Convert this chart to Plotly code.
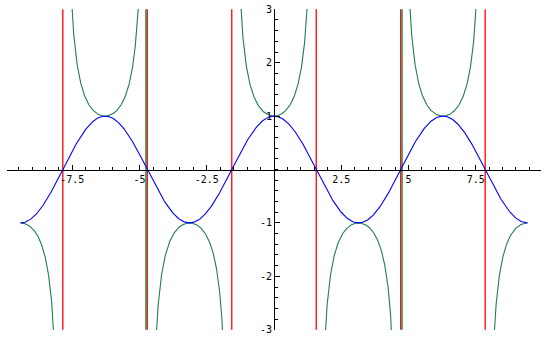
import numpy as np
import plotly.graph_objects as go

# ---- data ----
x_min, x_max = -3 * np.pi, 3 * np.pi
asymptotes = [-5 * np.pi / 2, -3 * np.pi / 2, -np.pi / 2, np.pi / 2, 3 * np.pi / 2, 5 * np.pi / 2]
jump_lines = [-3 * np.pi / 2 - 0.05, 3 * np.pi / 2 + 0.05]   # sec jump segments (green)
x_ticks = [-7.5, -5, -2.5, 2.5, 5, 7.5]
x_ticktext = ["-7.5", "-5", "-2.5", "2.5", "5", "7.5"]
y_ticks = [-3, -2, -1, 1, 2, 3]
y_ticktext = ["-3", "-2", "-1", "1", "2", "3"]

# cos curve
xs = np.linspace(x_min, x_max, 1500)
cos_y = np.cos(xs)

# sec curve, split at asymptotes
edges = [x_min] + asymptotes + [x_max]
sec_x, sec_y = [], []
for a, b in zip(edges[:-1], edges[1:]):
    seg = np.linspace(a + 1e-4, b - 1e-4, 600)
    sec_x += list(seg) + [None]
    sec_y += list(1 / np.cos(seg)) + [None]

fig = go.Figure()

BLUE = "#0000FF"
GREEN = "#1E7F4F"
DGREEN = "#008040"
RED = "#FF0000"

for xv in asymptotes:
    fig.add_trace(go.Scatter(x=[xv, xv], y=[-3, 3], mode="lines",
                             line=dict(color=RED, width=1.3), hoverinfo="skip"))
for xv in jump_lines:
    fig.add_trace(go.Scatter(x=[xv, xv], y=[-3, 3], mode="lines",
                             line=dict(color=DGREEN, width=1.3), hoverinfo="skip"))

fig.add_trace(go.Scatter(x=sec_x, y=sec_y, mode="lines",
                         line=dict(color=GREEN, width=1.1), connectgaps=False))
fig.add_trace(go.Scatter(x=xs, y=cos_y, mode="lines",
                         line=dict(color=BLUE, width=1.1)))

tick_font = dict(family="DejaVu Sans Mono", size=10, color="black")

fig.update_layout(
    width=549, height=339,
    margin=dict(l=7, r=8, t=4, b=5),
    paper_bgcolor="white", plot_bgcolor="white",
    showlegend=False,
    xaxis=dict(
        range=[-9.93, 9.93], showgrid=False, zeroline=False,
        showline=True, linecolor="black", linewidth=1,
        anchor="free", position=0.5,
        tickmode="array", tickvals=x_ticks, ticktext=x_ticktext,
        ticks="inside", ticklen=5, tickcolor="black", tickwidth=1,
        minor=dict(dtick=0.5, tick0=0, ticks="inside", ticklen=3, tickcolor="black", tickwidth=1),
        tickfont=tick_font, ticklabeloverflow="allow",
    ),
    yaxis=dict(
        range=[-3.005, 3.005], showgrid=False, zeroline=False,
        showline=True, linecolor="black", linewidth=1,
        anchor="free", position=0.5,
        tickmode="array", tickvals=y_ticks, ticktext=y_ticktext,
        ticks="inside", ticklen=5, tickcolor="black", tickwidth=1,
        minor=dict(dtick=0.2, tick0=0, ticks="inside", ticklen=3, tickcolor="black", tickwidth=1),
        tickfont=tick_font, ticklabeloverflow="allow",
    ),
)

fig.write_html("out.html")
